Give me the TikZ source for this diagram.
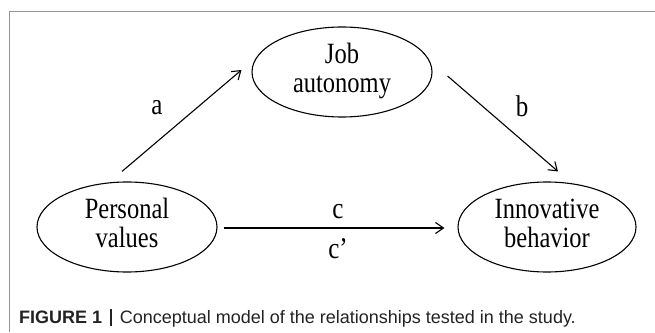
\documentclass[tikz,border=0pt]{standalone}
\usepackage{fontspec}
\setmainfont{Liberation Serif}
\newfontfamily\capfont{Liberation Sans}
\usetikzlibrary{shapes.geometric,arrows.meta}
\definecolor{framegray}{RGB}{150,150,150}
\definecolor{captext}{RGB}{35,35,35}
\newcommand{\vst}[1]{\scalebox{1}[1.2]{\begin{tabular}{@{}c@{}}#1\end{tabular}}}
\tikzset{
  construct/.style={draw, ellipse, line width=1.1pt, minimum width=180pt, minimum height=90pt,
    inner sep=0pt, align=center, font=\fontsize{24.5}{24.5}\selectfont},
  arr/.style={line width=1.1pt, -{Straight Barb[length=8pt,width=11pt,line width=1.1pt]}},
  pathlabel/.style={font=\fontsize{25}{25}\selectfont, inner sep=0pt},
  frameline/.style={draw=framegray, line width=1pt}
}
\begin{document}
\begin{tikzpicture}[x=1pt,y=1pt]
\useasboundingbox (0,0) rectangle (655,332);
\fill[white] (0,0) rectangle (655,332);
\coordinate (fbl) at (9,0);
\coordinate (ftl) at (9,320);
\coordinate (ftr) at (655,320);
\draw[frameline] (fbl) -- (ftl) -- (ftr);
\node[construct] (ja) at (342,260) {\vst{Job\\autonomy}};
\node[construct] (pv) at (127,105) {\vst{Personal\\values}};
\node[construct, minimum width=178pt] (ib) at (547,105) {\vst{Innovative\\behavior}};
\draw[arr] ([shift={(-5,10)}]pv.north) -- ([shift={(-10,2)}]ja.west);
\draw[arr] ([shift={(15,-4)}]ja.east) -- ([shift={(11,10)}]ib.north);
\draw[arr] ([shift={(6,-1)}]pv.east) -- ([shift={(-13,-1)}]ib.west);
\node[pathlabel] (la) at (157,224) {\scalebox{1}[1.2]{a}};
\node[pathlabel] (lb) at (522,226) {\scalebox{1}[1.2]{b}};
\node[pathlabel] (lc) at (338,120) {\scalebox{1}[1.2]{c}};
\node[pathlabel] (lcp) at (338,83) {\scalebox{1}[1.2]{c’}};
\node[anchor=base west, inner sep=0pt, text=captext, font=\capfont\fontsize{18}{20}\selectfont] (cap) at (19,9)
  {\textbf{FIGURE 1}\hspace{8pt}\rule[-3pt]{1.6pt}{17pt}\hspace{8pt}Conceptual model of the relationships tested in the study.};
\end{tikzpicture}
\end{document}
